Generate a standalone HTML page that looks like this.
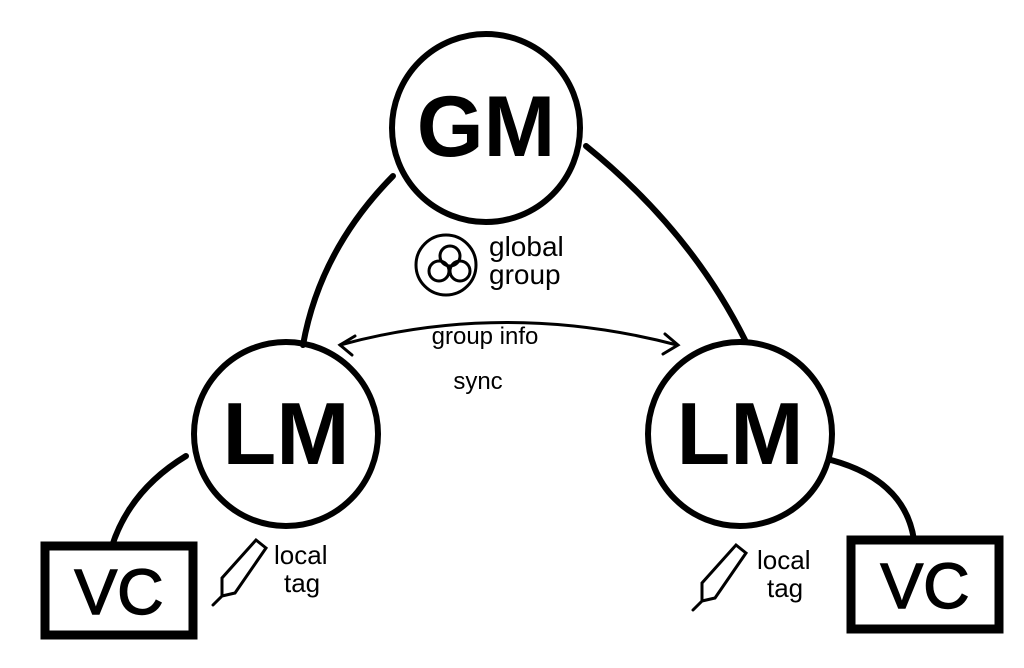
<!DOCTYPE html>
<html><head><meta charset="utf-8"><style>
body{margin:0;background:#fff}
svg{display:block}
text{font-family:"Liberation Sans",sans-serif;fill:#000}
</style></head><body>
<svg width="1024" height="668" viewBox="0 0 1024 668">
<g fill="none" stroke="#000" stroke-linecap="round">
<circle cx="486" cy="128" r="94" stroke-width="6"/>
<circle cx="286" cy="434" r="92" stroke-width="6"/>
<circle cx="740" cy="434" r="92" stroke-width="6"/>
<path d="M393 176 Q320 250 303 345" stroke-width="6"/>
<path d="M586 146 Q690 230 745 340" stroke-width="6"/>
<path d="M186 456 Q130 490 112 546" stroke-width="6"/>
<path d="M831 460 Q905 480 914 540" stroke-width="6"/>
<rect x="45" y="546" width="148" height="89" stroke-width="9"/>
<rect x="851" y="540" width="148" height="89" stroke-width="9"/>
<path d="M340 345 Q505 300 677 345" stroke-width="3"/>
<path d="M355 336 L340 345 L352 355" stroke-width="3"/>
<path d="M665 334 L678 345 L663 354" stroke-width="3"/>
<circle cx="446" cy="265" r="30" stroke-width="3"/>
<circle cx="450" cy="256" r="10" stroke-width="3"/>
<circle cx="439" cy="271" r="10" stroke-width="3"/>
<circle cx="460" cy="271" r="10" stroke-width="3"/>
<path d="M213 605 L222 596 L222 578 L256 540 L266 548 L235 593 L222 596" stroke-width="3"/>
<path d="M693 610 L702 601 L702 583 L736 545 L746 553 L715 598 L702 601" stroke-width="3"/>
</g>
<text x="486" y="156" font-size="86" font-weight="bold" text-anchor="middle">GM</text>
<text x="286" y="464" font-size="88" font-weight="bold" text-anchor="middle">LM</text>
<text x="740" y="464" font-size="88" font-weight="bold" text-anchor="middle">LM</text>
<text x="119" y="614" font-size="64" text-anchor="middle" stroke="#000" stroke-width="1.5">VC</text>
<text x="925" y="608" font-size="64" text-anchor="middle" stroke="#000" stroke-width="1.5">VC</text>
<text x="489" y="256" font-size="28">global</text>
<text x="489" y="284" font-size="28">group</text>
<text x="485" y="344" font-size="24" text-anchor="middle">group info</text>
<text x="478" y="389" font-size="24" text-anchor="middle">sync</text>
<text x="274" y="564" font-size="26">local</text>
<text x="284" y="592" font-size="26">tag</text>
<text x="757" y="569" font-size="26">local</text>
<text x="767" y="597" font-size="26">tag</text>
</svg>
</body></html>
